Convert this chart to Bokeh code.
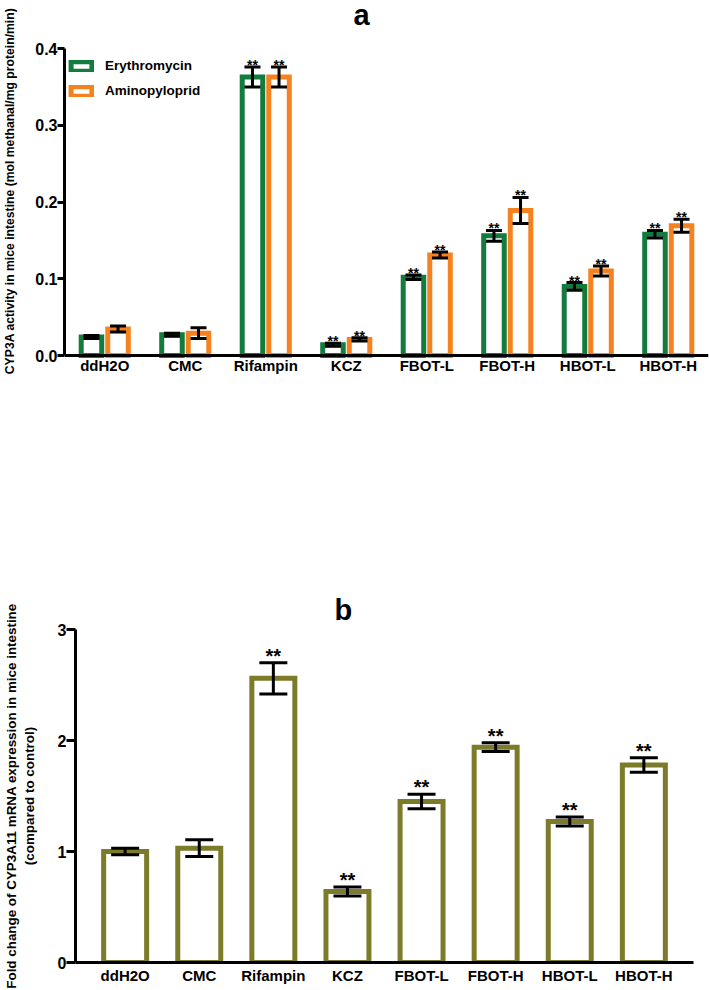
import math
from bokeh.plotting import figure
from bokeh.models import (ColumnDataSource, FactorRange, Range1d, FixedTicker,
                          PrintfTickFormatter, Legend, LegendItem, Label)
from bokeh.transform import dodge
from bokeh.core.properties import value
from bokeh.embed import file_html
from bokeh.resources import INLINE

# ---------------- data ----------------
groups = ["ddH2O", "CMC", "Rifampin", "KCZ", "FBOT-L", "FBOT-H", "HBOT-L", "HBOT-H"]

# panel a: CYP3A activity
ery_mean = [0.024, 0.027, 0.363, 0.014, 0.102, 0.156, 0.090, 0.158]
ery_err = [0.002, 0.002, 0.013, 0.002, 0.003, 0.007, 0.005, 0.005]
amino_mean = [0.0345, 0.029, 0.363, 0.021, 0.131, 0.189, 0.110, 0.169]
amino_err = [0.004, 0.007, 0.013, 0.002, 0.004, 0.017, 0.0065, 0.0085]
ery_sig = ["", "", "**", "**", "**", "**", "**", "**"]
amino_sig = ["", "", "**", "**", "**", "**", "**", "**"]

# panel b: CYP3A11 mRNA fold change
fold_mean = [1.00, 1.03, 2.56, 0.64, 1.45, 1.94, 1.27, 1.78]
fold_err = [0.03, 0.075, 0.14, 0.04, 0.065, 0.04, 0.04, 0.065]
fold_sig = ["", "", "**", "**", "**", "**", "**", "**"]

y_ticks_a = [0.0, 0.1, 0.2, 0.3, 0.4]
y_ticks_b = [0, 1, 2, 3]

ylabel_a = "CYP3A activity in mice intestine (mol methanal/mg protein/min)"
ylabel_b = "Fold change of CYP3A11 mRNA expression in mice intestine\n(compared to control)"

GREEN = "#137B3E"
ORANGE = "#F5821F"
OLIVE = "#7B7B2A"
FONT = "Liberation Sans"


def style_axes(p, tick_out, xstand):
    for ax in (p.xaxis[0], p.yaxis[0]):
        ax.axis_line_width = 3
        ax.axis_line_color = "black"
        ax.major_label_text_font = FONT
        ax.major_label_text_font_style = "bold"
        ax.major_label_text_font_size = "15px"
        ax.major_label_text_color = "black"
        ax.minor_tick_line_color = None
    p.yaxis.major_label_text_font_size = "16px"
    p.xaxis.major_tick_line_color = None
    p.xaxis.major_tick_out = 0
    p.xaxis.major_tick_in = 0
    p.xaxis.major_label_standoff = xstand
    p.yaxis.major_tick_line_width = 3
    p.yaxis.major_tick_line_color = "black"
    p.yaxis.major_tick_out = tick_out
    p.yaxis.major_tick_in = 0
    p.yaxis.major_label_standoff = 0
    p.yaxis.axis_label_text_font = FONT
    p.yaxis.axis_label_text_font_style = "bold"
    p.yaxis.axis_label_text_color = "black"
    p.xgrid.grid_line_color = None
    p.ygrid.grid_line_color = None
    p.outline_line_color = None


# ---------------- panel a ----------------
src_a = ColumnDataSource(dict(
    g=groups,
    ery=ery_mean,
    ery_lo=[m - e for m, e in zip(ery_mean, ery_err)],
    ery_hi=[m + e for m, e in zip(ery_mean, ery_err)],
    ery_sig=ery_sig,
    am=amino_mean,
    am_lo=[m - e for m, e in zip(amino_mean, amino_err)],
    am_hi=[m + e for m, e in zip(amino_mean, amino_err)],
    am_sig=amino_sig,
))

# frame spans nearly the whole canvas height; axes are bounded / pinned at the data values
A_TOP = 0.4 * 355 / 307
A_BOTTOM = -0.4 * 26 / 307
p1 = figure(width=709, height=400, x_range=FactorRange(factors=groups, range_padding=0),
            y_range=Range1d(A_BOTTOM, A_TOP), output_backend="svg", toolbar_location=None,
            min_border_left=62, min_border_right=1, min_border_top=0, min_border_bottom=19)
style_axes(p1, 7, 1)
p1.xaxis.fixed_location = 0
p1.yaxis.bounds = (0, 0.4)
p1.yaxis.ticker = FixedTicker(ticks=y_ticks_a)
p1.yaxis.formatter = PrintfTickFormatter(format="%.1f")
p1.yaxis.axis_label = ylabel_a
p1.yaxis.axis_label_text_font_size = "12.2px"
p1.yaxis.axis_label_standoff = 15

p1.add_layout(Label(x=289, y=367, x_units="screen", y_units="screen", text="a",
                    text_align="left", text_baseline="alphabetic", text_font=FONT,
                    text_font_style="bold", text_font_size="29px", text_color="black"))

OFF = 0.165
BW = 0.255
r_ery = p1.vbar(x=dodge("g", -OFF, range=p1.x_range), top="ery", width=BW, bottom=0,
                fill_color="white", line_color=GREEN, line_width=5, line_join="miter",
                source=src_a)
r_am = p1.vbar(x=dodge("g", OFF, range=p1.x_range), top="am", width=BW, bottom=0,
               fill_color="white", line_color=ORANGE, line_width=5, line_join="miter",
               source=src_a)
for off, lo, hi, sig in ((-OFF, "ery_lo", "ery_hi", "ery_sig"), (OFF, "am_lo", "am_hi", "am_sig")):
    xx = dodge("g", off, range=p1.x_range)
    p1.segment(x0=xx, y0=lo, x1=xx, y1=hi, line_color="black", line_width=3, source=src_a)
    p1.dash(x=xx, y=lo, size=16, line_width=3, line_color="black", source=src_a)
    p1.dash(x=xx, y=hi, size=16, line_width=3, line_color="black", source=src_a)
    p1.text(x=xx, y=hi, text=sig, text_align="center", text_baseline="alphabetic",
            y_offset=-2, text_font=value(FONT), text_font_style="bold",
            text_font_size="14px", text_color="black", source=src_a)

legend = Legend(items=[LegendItem(label="Erythromycin", renderers=[r_ery]),
                       LegendItem(label="Aminopyloprid", renderers=[r_am])],
                location=(4, 283), margin=0, padding=12, spacing=10,
                glyph_width=26, glyph_height=12, label_height=12, label_standoff=11,
                label_text_font=FONT, label_text_font_style="bold",
                label_text_font_size="13.5px", label_text_color="black",
                border_line_color=None, background_fill_alpha=0)
p1.add_layout(legend)

# ---------------- panel b ----------------
src_b = ColumnDataSource(dict(
    g=groups,
    v=fold_mean,
    lo=[m - e for m, e in zip(fold_mean, fold_err)],
    hi=[m + e for m, e in zip(fold_mean, fold_err)],
    sig=fold_sig,
))

p2 = figure(width=709, height=590,
            x_range=FactorRange(factors=groups, range_padding=0.17, range_padding_units="absolute"),
            y_range=Range1d(0, 3), output_backend="svg", toolbar_location=None,
            min_border_left=73, min_border_right=16, min_border_top=229, min_border_bottom=28,
            title="b")
style_axes(p2, 9, 4)
p2.title.align = "left"
p2.title.offset = 259
p2.title.text_font = FONT
p2.title.text_font_style = "bold"
p2.title.text_font_size = "29px"
p2.title.text_color = "black"
p2.title.standoff = 7
p2.yaxis.ticker = FixedTicker(ticks=y_ticks_b)
p2.yaxis.formatter = PrintfTickFormatter(format="%d")
p2.yaxis.axis_label = ylabel_b
p2.yaxis.axis_label_text_font_size = "13.4px"
p2.yaxis.axis_label_standoff = 18

p2.vbar(x="g", top="v", width=0.58, bottom=0, fill_color="white", line_color=OLIVE,
        line_width=5, line_join="miter", source=src_b)
p2.segment(x0="g", y0="lo", x1="g", y1="hi", line_color="black", line_width=3, source=src_b)
p2.dash(x="g", y="lo", size=28, line_width=3, line_color="black", source=src_b)
p2.dash(x="g", y="hi", size=28, line_width=3, line_color="black", source=src_b)
p2.text(x="g", y="hi", text="sig", text_align="center", text_baseline="alphabetic",
        y_offset=-7, text_font=value(FONT), text_font_style="bold", text_font_size="20px",
        text_color="black", source=src_b)

open("out.html", "w").write(file_html([p1, p2], INLINE))
